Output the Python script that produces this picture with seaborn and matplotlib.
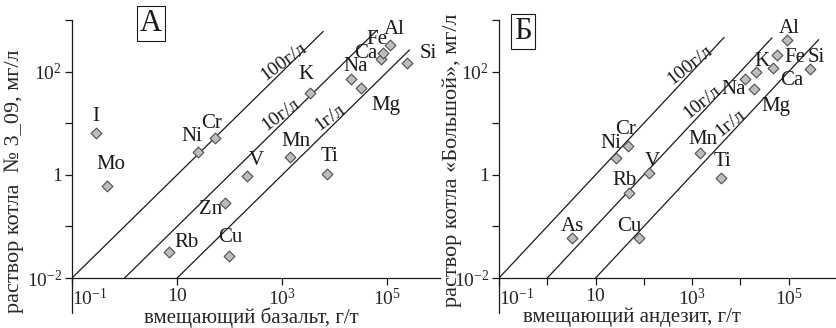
import numpy as np
import pandas as pd
import matplotlib
matplotlib.use('Agg')
import matplotlib.pyplot as plt
import seaborn as sns

# --- левая панель: вмещающий базальт (г/т) / раствор котла № 3_09 (мг/л)
bas_el = ['I', 'Mo', 'Ni', 'Cr', 'Zn', 'V', 'Mn', 'Ti', 'K', 'Na', 'Mg', 'Ca', 'Fe', 'Al', 'Si', 'Rb', 'Cu']
bas_rock = [0.28, 0.47, 25, 52, 80, 215, 1400, 7200, 3400, 20000, 32000, 74000, 83000, 110000, 240000, 7.1, 98]
bas_sol = [6.6, 0.62, 2.8, 5.2, 0.28, 0.95, 2.2, 1.05, 39, 72, 49, 178, 234, 330, 145, 0.032, 0.027]

# --- правая панель: вмещающий андезит (г/т) / раствор котла «Большой» (мг/л)
and_el = ['As', 'Ni', 'Cr', 'Rb', 'Cu', 'V', 'Mn', 'Ti', 'Na', 'Mg', 'K', 'Ca', 'Fe', 'Al', 'Si']
and_rock = [3.2, 27, 48, 50, 78, 130, 1450, 4000, 12300, 19000, 21000, 47000, 56000, 91000, 280000]
and_sol = [0.06, 2.1, 3.6, 0.45, 0.06, 1.1, 2.7, 0.87, 72, 45, 100, 120, 214, 417, 110]

# линии равного отношения раствор/порода
line_names = ['100г/л', '10г/л', '1г/л']
line_coef = [0.1, 0.01, 0.001]
line_start = [0.1, 1, 10]
bas_line_end = [6000, 63000, 263000]
and_line_end = [4600, 45000, 417000]
bas_line_lab = [560, 600, 6000]   # где стоит подпись линии (по оси x)
and_line_lab = [460, 1000, 4600]

# смещения подписей элементов (пиксели: dx вправо, dy вверх)
bas_off = {'I': (0, 16), 'Mo': (4, 21), 'Ni': (-6, 15), 'Cr': (-3, 14), 'Zn': (-14, -6),
           'V': (9, 15), 'Mn': (6, 16), 'Ti': (2, 17), 'K': (-4, 18), 'Na': (5, 12),
           'Mg': (24, -18), 'Ca': (-15, 5), 'Fe': (-6, 13), 'Al': (5, 15), 'Si': (21, 10),
           'Rb': (17, 9), 'Cu': (1, 18)}
and_off = {'As': (1, 11), 'Ni': (-6, 15), 'Cr': (-3, 17), 'Rb': (-5, 12), 'Cu': (-9, 11),
           'V': (3, 11), 'Mn': (3, 13), 'Ti': (1, 16), 'Na': (-11, -11), 'Mg': (22, -17),
           'K': (6, 10), 'Ca': (19, -13), 'Fe': (18, -3), 'Al': (2, 11), 'Si': (6, 12)}

sns.set_theme(style='ticks')
plt.rcParams['font.family'] = ['Liberation Serif', 'DejaVu Serif']
plt.rcParams['mathtext.fontset'] = 'custom'
plt.rcParams['mathtext.rm'] = 'Liberation Serif'
plt.rcParams['mathtext.it'] = 'Liberation Serif'
plt.rcParams['text.color'] = '#1a1a1a'

W, H = 837, 328
fig = plt.figure(figsize=(W / 100, H / 100), dpi=100)
ax1 = fig.add_axes([72 / W, 50 / H, 368 / W, 258 / H])
ax2 = fig.add_axes([499 / W, 50 / H, 338 / W, 258 / H])


def draw_panel(ax, el, rock, sol, offs, line_end, line_lab, xticks, xlabel, ylabel, letter, letter_xy, xlab_x, ylab_xy):
    ax.set_xscale('log')
    ax.set_yscale('log')
    ax.set_xlim(0.1, 1e6)
    ax.set_ylim(1e-2, 1e3)

    # линии
    for name, k, x0, x1 in zip(line_names, line_coef, line_start, line_end):
        df_l = pd.DataFrame({'x': [x0, x1], 'y': [k * x0, k * x1]})
        sns.lineplot(data=df_l, x='x', y='y', ax=ax, color='#1a1a1a', lw=0.9)

    df = pd.DataFrame({'x': rock, 'y': sol, 'el': el})
    sns.scatterplot(data=df, x='x', y='y', ax=ax, marker='D', s=30, color='#bdbdbd',
                    edgecolor='#4d4d4d', linewidth=0.8, zorder=5, clip_on=False)
    for e, x, y in zip(el, rock, sol):
        dx, dy = offs[e]
        ax.annotate(e, (x, y), xytext=(dx, dy), textcoords='offset pixels',
                    ha='center', va='center', fontsize=15, annotation_clip=False)

    # подписи линий вдоль наклона
    p1 = ax.transData.transform((1, 1e-2))
    p2 = ax.transData.transform((1e4, 1e1))
    ang = np.degrees(np.arctan2(p2[1] - p1[1], p2[0] - p1[0]))
    for name, k, xl in zip(line_names, line_coef, line_lab):
        ax.annotate(name, (xl, k * xl), xytext=(-4, 4), textcoords='offset pixels',
                    rotation=ang, rotation_mode='anchor', ha='left', va='baseline', fontsize=14)

    ax.minorticks_off()
    ax.set_xticks(xticks)
    lbl = {0.1: r'$10^{-1}$', 10: r'$10$', 1e3: r'$10^{3}$', 1e5: r'$10^{5}$'}
    ax.set_xticklabels([lbl.get(t, '') for t in xticks])
    ax.get_xticklabels()[0].set_horizontalalignment('left')
    ax.set_yticks([1e-2, 1e-1, 1, 1e1, 1e2, 1e3])
    ax.set_yticklabels([r'$10^{-2}$', '', '1', '', r'$10^{2}$', ''])
    ax.tick_params(axis='both', labelsize=14, length=5, width=0.9, color='#1a1a1a', pad=2)
    ax.tick_params(axis='x', pad=2)

    for s in ['top', 'right']:
        ax.spines[s].set_visible(False)
    for s in ['left', 'bottom']:
        ax.spines[s].set_linewidth(0.9)
        ax.spines[s].set_color('#1a1a1a')
    ax.plot([0, 0], [0, -0.136], transform=ax.transAxes, color='#1a1a1a', lw=0.9, clip_on=False)

    ax.set_xlabel(xlabel, fontsize=15, va='center')
    ax.xaxis.set_label_coords(xlab_x, -0.153)
    ax.set_ylabel(ylabel, fontsize=16, va='center')
    ax.yaxis.set_label_coords(*ylab_xy)

    ax.text(letter_xy[0], letter_xy[1], letter, transform=ax.transAxes, fontsize=22,
            ha='center', va='center', clip_on=False,
            bbox=dict(boxstyle='square,pad=0.1', fc='white', ec='#1a1a1a', lw=0.8))


draw_panel(ax1, bas_el, bas_rock, bas_sol, bas_off, bas_line_end, bas_line_lab,
           [0.1, 10, 1e3, 1e5], 'вмещающий базальт, г/т', 'раствор котла  № 3_09, мг/л',
           'А', (0.215, 0.988), 0.486, (-0.157, 0.376))
draw_panel(ax2, and_el, and_rock, and_sol, and_off, and_line_end, and_line_lab,
           [0.1, 1, 10, 100, 1e3, 1e4, 1e5], 'вмещающий андезит, г/т', 'раствор котла «Большой», мг/л',
           'Б', (0.071, 0.957), 0.393, (-0.138, 0.457))

fig.savefig('out.png', dpi=100, facecolor='white')
